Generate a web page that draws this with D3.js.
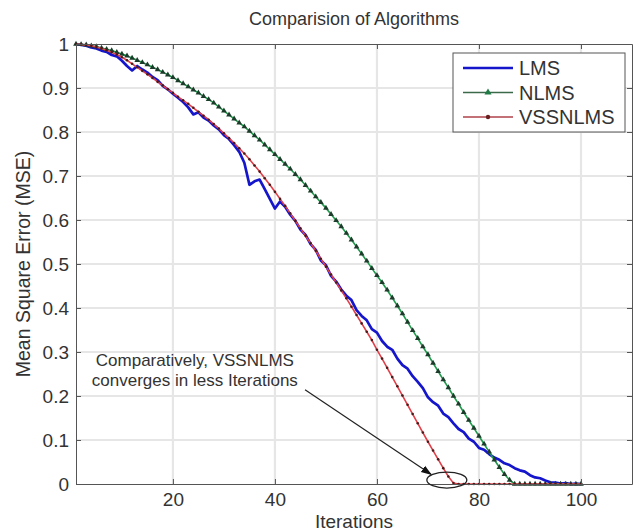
<!DOCTYPE html>
<html>
<head>
<meta charset="utf-8">
<script src="https://cdn.jsdelivr.net/npm/d3@7"></script>
<style>
  body { margin: 0; background: #fff; }
  text { font-family: "Liberation Sans", Arial, Helvetica, sans-serif; fill: #333; }
</style>
</head>
<body>
<svg id="chart" width="636" height="532"></svg>
<script>
// ---- data: MSE per iteration (1..100) for each adaptive filter ----
const seriesNames = ["LMS", "NLMS", "VSSNLMS"];

const lms = [
  1.000, 0.998, 0.996, 0.992, 0.990, 0.985, 0.982, 0.975, 0.972, 0.962,
  0.950, 0.940, 0.950, 0.942, 0.935, 0.925, 0.918, 0.905, 0.897, 0.887,
  0.878, 0.868, 0.856, 0.840, 0.845, 0.833, 0.826, 0.815, 0.806, 0.793,
  0.784, 0.770, 0.755, 0.730, 0.680, 0.688, 0.692, 0.670, 0.648, 0.626,
  0.642, 0.630, 0.612, 0.598, 0.578, 0.566, 0.545, 0.532, 0.508, 0.497,
  0.473, 0.460, 0.442, 0.428, 0.418, 0.395, 0.382, 0.372, 0.352, 0.344,
  0.325, 0.312, 0.305, 0.285, 0.270, 0.262, 0.245, 0.232, 0.218, 0.197,
  0.186, 0.178, 0.160, 0.152, 0.138, 0.125, 0.118, 0.103, 0.096, 0.082,
  0.078, 0.068, 0.060, 0.055, 0.047, 0.043, 0.036, 0.031, 0.028, 0.020,
  0.015, 0.013, 0.008, 0.004, 0.003, 0.001, 0.002, 0.000, 0.001, 0.000
];

const nlms = [
  1.000, 0.999, 0.998, 0.996, 0.994, 0.991, 0.988, 0.985, 0.981, 0.977,
  0.973, 0.968, 0.963, 0.958, 0.953, 0.947, 0.942, 0.936, 0.930, 0.924,
  0.917, 0.910, 0.903, 0.896, 0.889, 0.881, 0.874, 0.866, 0.857, 0.848,
  0.839, 0.830, 0.821, 0.812, 0.802, 0.792, 0.782, 0.771, 0.760, 0.749,
  0.738, 0.727, 0.716, 0.704, 0.692, 0.679, 0.666, 0.653, 0.640, 0.627,
  0.613, 0.599, 0.585, 0.570, 0.555, 0.539, 0.523, 0.507, 0.490, 0.474,
  0.458, 0.441, 0.423, 0.405, 0.387, 0.368, 0.349, 0.331, 0.312, 0.294,
  0.275, 0.256, 0.237, 0.219, 0.200, 0.182, 0.163, 0.145, 0.127, 0.109,
  0.091, 0.073, 0.055, 0.038, 0.022, 0.009, 0.000, 0.000, 0.000, 0.000,
  0.000, 0.000, 0.000, 0.000, 0.000, 0.000, 0.000, 0.000, 0.000, 0.000
];

const vssnlms = [
  1.000, 0.999, 0.998, 0.996, 0.993, 0.990, 0.986, 0.981, 0.976, 0.970,
  0.963, 0.955, 0.947, 0.939, 0.931, 0.923, 0.914, 0.906, 0.897, 0.889,
  0.880, 0.872, 0.864, 0.855, 0.846, 0.837, 0.828, 0.818, 0.808, 0.797,
  0.786, 0.775, 0.763, 0.751, 0.738, 0.724, 0.710, 0.695, 0.680, 0.664,
  0.648, 0.632, 0.615, 0.598, 0.581, 0.564, 0.547, 0.530, 0.512, 0.494,
  0.476, 0.458, 0.440, 0.422, 0.403, 0.384, 0.365, 0.346, 0.327, 0.305,
  0.285, 0.264, 0.243, 0.222, 0.201, 0.180, 0.159, 0.138, 0.117, 0.096,
  0.076, 0.056, 0.036, 0.017, 0.002, 0.000, 0.000, 0.000, 0.000, 0.000,
  0.000, 0.000, 0.000, 0.000, 0.000, 0.000, 0.000, 0.000, 0.000, 0.000,
  0.000, 0.000, 0.000, 0.000, 0.000, 0.000, 0.000, 0.000, 0.000, 0.000
];

const xTicks = [20, 40, 60, 80, 100];
const yTicks = [0, 0.1, 0.2, 0.3, 0.4, 0.5, 0.6, 0.7, 0.8, 0.9, 1];
const yTickLabels = ["0", "0.1", "0.2", "0.3", "0.4", "0.5", "0.6", "0.7", "0.8", "0.9", "1"];
const xDomain = [1, 110];
const yDomain = [0, 1];

const titleText = "Comparision of Algorithms";
const xLabelText = "Iterations";
const yLabelText = "Mean Square Error (MSE)";
const noteLines = ["Comparatively, VSSNLMS", "converges in less Iterations"];

// ---- layout ----
const W = 636, H = 532;
const plot = { left: 76, right: 632, top: 44, bottom: 484 };
const FONT = '"Liberation Sans", Arial, Helvetica, sans-serif';

const svg = d3.select("#chart");
svg.append("rect").attr("width", W).attr("height", H).attr("fill", "#fff");

const x = d3.scaleLinear().domain(xDomain).range([plot.left, plot.right]);
const y = d3.scaleLinear().domain(yDomain).range([plot.bottom, plot.top]);

// grid
const grid = svg.append("g").attr("stroke", "#e6e6e6").attr("stroke-width", 2.2);
grid.selectAll("line.gx").data(xTicks).join("line")
  .attr("x1", d => x(d)).attr("x2", d => x(d))
  .attr("y1", plot.top).attr("y2", plot.bottom);
grid.selectAll("line.gy").data(yTicks.slice(1, -1)).join("line")
  .attr("x1", plot.left).attr("x2", plot.right)
  .attr("y1", d => y(d)).attr("y2", d => y(d));

// series
const idx = lms.map((_, i) => i + 1);
const lineGen = vals => d3.line().x((d, i) => x(idx[i])).y(d => y(d))(vals);

const series = [
  { name: seriesNames[0], values: lms, color: "#1515cc", width: 2.7, marker: null },
  { name: seriesNames[1], values: nlms, color: "#1f9a4c", width: 1.6, marker: "tri", mcolor: "#1d3b2a" },
  { name: seriesNames[2], values: vssnlms, color: "#e0404a", width: 1.6, marker: "dot", mcolor: "#4a1a1a" }
];

const triPath = d3.symbol().type(d3.symbolTriangle).size(14)();

series.forEach(s => {
  svg.append("path")
    .attr("d", lineGen(s.values))
    .attr("fill", "none")
    .attr("stroke", s.color)
    .attr("stroke-width", s.width)
    .attr("stroke-linejoin", "round");
  if (s.marker === "tri") {
    svg.append("g").selectAll("path").data(s.values).join("path")
      .attr("d", triPath)
      .attr("transform", (d, i) => `translate(${x(idx[i])},${y(d)})`)
      .attr("fill", s.mcolor);
  } else if (s.marker === "dot") {
    svg.append("g").selectAll("circle").data(s.values).join("circle")
      .attr("cx", (d, i) => x(idx[i])).attr("cy", d => y(d))
      .attr("r", 1.3).attr("fill", s.mcolor);
  }
});

// axes box with inward ticks on all sides
const axisColor = "#555";
const styleAxis = g => {
  g.select(".domain").attr("stroke", axisColor);
  g.selectAll(".tick line").attr("stroke", axisColor);
  g.selectAll(".tick text").attr("fill", "#333")
    .style("font-family", FONT).style("font-size", "19px");
};

svg.append("g").attr("transform", `translate(0,${plot.bottom})`)
  .call(d3.axisBottom(x).tickValues(xTicks).tickSizeInner(-5).tickSizeOuter(0).tickPadding(9).tickFormat(d3.format("d")))
  .call(styleAxis);
svg.append("g").attr("transform", `translate(0,${plot.top})`)
  .call(d3.axisTop(x).tickValues(xTicks).tickSizeInner(-5).tickSizeOuter(0).tickFormat(""))
  .call(styleAxis);
svg.append("g").attr("transform", `translate(${plot.left},0)`)
  .call(d3.axisLeft(y).tickValues(yTicks).tickSizeInner(-5).tickSizeOuter(0).tickPadding(7)
    .tickFormat((d, i) => yTickLabels[i]))
  .call(styleAxis);
svg.append("g").attr("transform", `translate(${plot.right},0)`)
  .call(d3.axisRight(y).tickValues(yTicks).tickSizeInner(-5).tickSizeOuter(0).tickFormat(""))
  .call(styleAxis);

// title and axis labels
svg.append("text").attr("x", (plot.left + plot.right) / 2).attr("y", 25)
  .attr("text-anchor", "middle").style("font-size", "18px").text(titleText);
svg.append("text").attr("x", (plot.left + plot.right) / 2).attr("y", 528)
  .attr("text-anchor", "middle").style("font-size", "19px").text(xLabelText);
svg.append("text")
  .attr("transform", `translate(30,${(plot.top + plot.bottom) / 2}) rotate(-90)`)
  .attr("text-anchor", "middle").style("font-size", "19.5px").text(yLabelText);

// annotation: note, arrow and ellipse around VSSNLMS convergence
const note = svg.append("text").attr("text-anchor", "middle").style("font-size", "17px");
note.selectAll("tspan").data(noteLines).join("tspan")
  .attr("x", x(24.3)).attr("y", (d, i) => y(0.268) + i * 20).text(d => d);

svg.append("defs").append("marker")
  .attr("id", "arrowhead").attr("viewBox", "0 0 10 10")
  .attr("refX", 9).attr("refY", 5).attr("markerWidth", 9).attr("markerHeight", 9)
  .attr("orient", "auto")
  .append("path").attr("d", "M0,1.5 L10,5 L0,8.5 Z").attr("fill", "#111");

svg.append("line")
  .attr("x1", x(45.9)).attr("y1", y(0.214))
  .attr("x2", x(70.6)).attr("y2", y(0.022))
  .attr("stroke", "#222").attr("stroke-width", 1.2)
  .attr("marker-end", "url(#arrowhead)");

svg.append("ellipse")
  .attr("cx", x(73.7)).attr("cy", y(0.009)).attr("rx", 20).attr("ry", 8)
  .attr("fill", "none").attr("stroke", "#222").attr("stroke-width", 1.3);

// legend
const lg = svg.append("g").attr("transform", "translate(453,53)");
lg.append("rect").attr("width", 172).attr("height", 79)
  .attr("fill", "#fff").attr("stroke", "#555").attr("stroke-width", 1);
const legendRows = [
  { name: seriesNames[0], color: "#1515cc", width: 2.7, marker: null },
  { name: seriesNames[1], color: "#3a6a4a", width: 1.4, marker: "tri", mcolor: "#1f7a45" },
  { name: seriesNames[2], color: "#b0404a", width: 1.4, marker: "dot", mcolor: "#6a2020" }
];
legendRows.forEach((r, i) => {
  const cy = 15 + i * 24.5;
  lg.append("line").attr("x1", 10).attr("x2", 60).attr("y1", cy).attr("y2", cy)
    .attr("stroke", r.color).attr("stroke-width", r.width);
  if (r.marker === "tri") {
    lg.append("path").attr("d", d3.symbol().type(d3.symbolTriangle).size(22)())
      .attr("transform", `translate(35,${cy})`).attr("fill", r.mcolor);
  } else if (r.marker === "dot") {
    lg.append("circle").attr("cx", 35).attr("cy", cy).attr("r", 2.2).attr("fill", r.mcolor);
  }
  lg.append("text").attr("x", 66).attr("y", cy + 7).style("font-size", "20px").text(r.name);
});
</script>
</body>
</html>
